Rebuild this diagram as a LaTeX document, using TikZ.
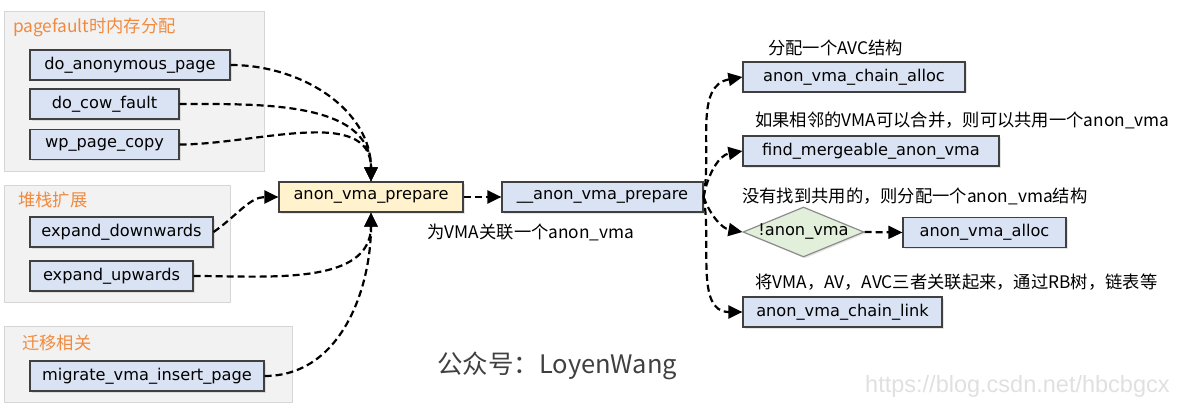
\documentclass[tikz,border=0pt]{standalone}
\usepackage{fontspec}
\setmainfont{DejaVu Sans}
\newfontfamily\cjk{Noto Sans CJK SC}
\newfontfamily\urlfont{Liberation Sans}
\usetikzlibrary{arrows.meta}
\usetikzlibrary{shapes.geometric,shadows}
\definecolor{fnblue}{HTML}{DAE3F3}
\definecolor{fnyellow}{HTML}{FFF2CC}
\definecolor{fngreen}{HTML}{E2EFDA}
\definecolor{ttlorange}{HTML}{F08A3E}

\begin{document}
\begin{tikzpicture}[x=1pt, y=-1pt,
	grp/.style={draw=black!16, fill=black!5, inner sep=0pt, line width=1pt},
	fn/.style={draw=black!75, fill=fnblue, line width=1.2pt, inner sep=0pt, minimum height=30pt,
		font=\fontsize{16.2}{19}\selectfont, drop shadow={shadow xshift=1.5pt, shadow yshift=-1.5pt, opacity=.2}},
	ttl/.style={anchor=west, inner sep=0pt, text=ttlorange, font=\cjk\fontsize{17.3}{20}\selectfont},
	cmt/.style={anchor=west, inner sep=0pt, font=\cjk\fontsize{17.3}{20}\selectfont},
	call/.style={line width=2.2pt, dash pattern=on 7pt off 4pt, -{Triangle[length=14pt,width=13pt]}}]
\useasboundingbox (0,0) rectangle (1200,412);

\node[grp, minimum width=260pt, minimum height=159pt] (gfault) at (134,91.5) {};
\node[grp, minimum width=226pt, minimum height=117pt] (gstack) at (117,243.5) {};
\node[grp, minimum width=288pt, minimum height=76pt] (gmig) at (148,364) {};
\node[ttl] (tfault) at (13,27) {pagefault时内存分配};
\node[ttl] (tstack) at (18,200) {堆栈扩展};
\node[ttl] (tmig) at (22,343) {迁移相关};

\node[fn, minimum width=200pt] (doanon) at (130,65) {do\_anonymous\_page};
\node[fn, minimum width=149pt] (docow) at (104.5,104) {do\_cow\_fault};
\node[fn, minimum width=149pt] (wpcopy) at (104.5,144.5) {wp\_page\_copy};
\node[fn, minimum width=183pt] (expdown) at (121.5,232) {expand\_downwards};
\node[fn, minimum width=163pt] (expup) at (111.5,276) {expand\_upwards};
\node[fn, minimum width=234pt] (migrate) at (147,376) {migrate\_vma\_insert\_page};

\node[fn, fill=fnyellow, minimum width=184pt] (prep) at (371,197) {anon\_vma\_prepare};
\node[fn, minimum width=201pt] (iprep) at (602.5,197) {\_\_anon\_vma\_prepare};
\node[cmt, anchor=center] (lprep) at (531,232) {为VMA关联一个anon\_vma};

\node[fn, minimum width=222pt] (challoc) at (854,77) {anon\_vma\_chain\_alloc};
\node[fn, minimum width=256pt] (findmerge) at (871,151) {find\_mergeable\_anon\_vma};
\node[fn, diamond, fill=fngreen, draw=black!45, minimum width=121pt, minimum height=50pt] (cond) at (803.5,232) {\makebox[0pt]{!anon\_vma}};
\node[fn, minimum width=163pt] (avalloc) at (984.5,232.5) {anon\_vma\_alloc};
\node[fn, minimum width=199pt] (chlink) at (842.5,312) {anon\_vma\_chain\_link};

\node[cmt] (lchalloc) at (768,48) {分配一个AVC结构};
\node[cmt] (lfind) at (755,120) {如果相邻的VMA可以合并，则可以共用一个anon\_vma};
\node[cmt] (lcond) at (742,196) {没有找到共用的，则分配一个anon\_vma结构};
\node[cmt] (llink) at (755,282) {将VMA，AV，AVC三者关联起来，通过RB树，链表等};

\node[anchor=west, inner sep=0pt, text=black!75, font=\cjk\fontsize{25.5}{30}\selectfont] (wx) at (437,366) {公众号：LoyenWang};
\node[anchor=west, inner sep=0pt, text=black!12, font=\urlfont\fontsize{23.5}{27}\selectfont] (url) at (865,386) {https://blog.csdn.net/hbcbgcx};

\path[call]
(doanon.east) edge[out=0, in=90] (prep.north)
(docow.east) edge[out=0, in=90] (prep.north)
(wpcopy.east) edge[out=0, in=90] (prep.north)
(expdown.east) edge[out=35, in=180] (prep.west)
(expup.east) edge[out=0, in=-90] (prep.south)
(migrate.east) edge[out=0, in=-90] (prep.south)
(prep.east) edge (iprep.west);
\path[call]
(iprep.east) edge[out=80, in=190] (challoc.west)
(iprep.east) edge[out=80, in=190] (findmerge.west)
(iprep.east) edge[out=-70, in=170] (cond.west)
(iprep.east) edge[out=-80, in=180] (chlink.west)
(cond.east) edge (avalloc.west);
\end{tikzpicture}
\end{document}
